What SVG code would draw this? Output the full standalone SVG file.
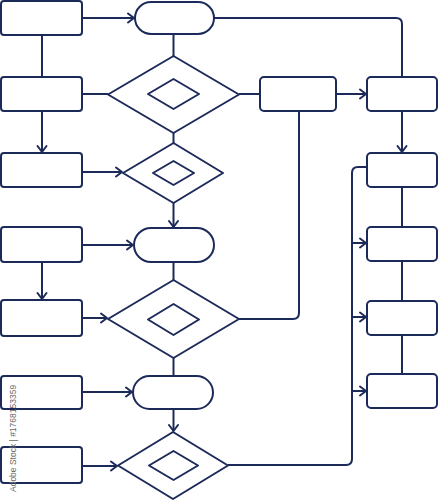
<svg xmlns="http://www.w3.org/2000/svg" width="438" height="500" viewBox="0 0 438 500">
<style>
.s{fill:#fff;stroke:#1c2a5a;stroke-width:2;stroke-linejoin:round}
.c{fill:none;stroke:#1c2a5a;stroke-width:2;stroke-linejoin:round}
.wm{font-family:"Liberation Sans",Arial,sans-serif;font-size:8.5px;fill:#6a6a6a}
</style>
<defs>
<marker id="ah" markerUnits="userSpaceOnUse" markerWidth="12" markerHeight="12" refX="9" refY="6" orient="auto" viewBox="0 0 12 12">
<path d="M3,1.5 L9,6 L3,10.5" fill="none" stroke="#1c2a5a" stroke-width="2" stroke-linejoin="round" stroke-linecap="round"/>
</marker>
</defs>
<g id="connectors">
<path class="c" d="M82,18 H134" marker-end="url(#ah)"/>
<path class="c" d="M42,35 V77"/>
<path class="c" d="M173.5,34 V56"/>
<path class="c" d="M214,18 H396 Q402,18 402,24 V77"/>
<path class="c" d="M82,94 H108"/>
<path class="c" d="M42,111 V152" marker-end="url(#ah)"/>
<path class="c" d="M173.5,133 V143"/>
<path class="c" d="M239,94 H260"/>
<path class="c" d="M336,94 H366" marker-end="url(#ah)"/>
<path class="c" d="M402,111 V152" marker-end="url(#ah)"/>
<path class="c" d="M82,172 H122" marker-end="url(#ah)"/>
<path class="c" d="M173.5,203 V227" marker-end="url(#ah)"/>
<path class="c" d="M82,245 H133" marker-end="url(#ah)"/>
<path class="c" d="M42,262 V299" marker-end="url(#ah)"/>
<path class="c" d="M173.5,262 V280"/>
<path class="c" d="M82,318 H107" marker-end="url(#ah)"/>
<path class="c" d="M239,319 H293 Q299,319 299,313 V111"/>
<path class="c" d="M173.5,358 V376"/>
<path class="c" d="M82,392 H132" marker-end="url(#ah)"/>
<path class="c" d="M173.5,409 V431" marker-end="url(#ah)"/>
<path class="c" d="M82,466 H117" marker-end="url(#ah)"/>
<path class="c" d="M228,465 H346 Q352,465 352,459 V173 Q352,167 358,167 H367"/>
<path class="c" d="M402,187 V227 M402,261 V301 M402,335 V374"/>
<path class="c" d="M352,243 H366" marker-end="url(#ah)"/>
<path class="c" d="M352,317 H366" marker-end="url(#ah)"/>
<path class="c" d="M352,391 H366" marker-end="url(#ah)"/>
</g>
<g id="box1"><rect class="s" x="1" y="1" width="81" height="34" rx="3"/></g>
<g id="box2"><rect class="s" x="1" y="77" width="81" height="34" rx="3"/></g>
<g id="box3"><rect class="s" x="1" y="153" width="81" height="34" rx="3"/></g>
<g id="box4"><rect class="s" x="1" y="227" width="81" height="35" rx="3"/></g>
<g id="box5"><rect class="s" x="1" y="300" width="81" height="36" rx="3"/></g>
<g id="box6"><rect class="s" x="1" y="376" width="81" height="33" rx="3"/></g>
<g id="box7"><rect class="s" x="1" y="447" width="81" height="36" rx="3"/></g>
<g id="term1"><rect class="s" x="135" y="2" width="79" height="32" rx="16"/></g>
<g id="term2"><rect class="s" x="134" y="228" width="80" height="34" rx="17"/></g>
<g id="term3"><rect class="s" x="133" y="376" width="80" height="33" rx="16.5"/></g>
<g id="dia1"><polygon class="s" points="173.5,56 239,94.5 173.5,133 108,94.5"/><polygon class="s" points="173.5,79 199,94 173.5,109 148,94"/></g>
<g id="dia2"><polygon class="s" points="173.5,143 223,173 173.5,203 123,173"/><polygon class="s" points="173.5,161 194,173 173.5,185 153,173"/></g>
<g id="dia3"><polygon class="s" points="173.5,280 239,319 173.5,358 108,319"/><polygon class="s" points="173.5,304 199,319.5 173.5,335 148,319.5"/></g>
<g id="dia4"><polygon class="s" points="173,432 228,465.5 173,499 118,465.5"/><polygon class="s" points="173.5,451 198,465.5 173.5,480 149,465.5"/></g>
<g id="midbox"><rect class="s" x="260" y="77" width="76" height="34" rx="4"/></g>
<g id="rbox1"><rect class="s" x="367" y="77" width="70" height="34" rx="4"/></g>
<g id="rbox2"><rect class="s" x="367" y="153" width="70" height="34" rx="4"/></g>
<g id="rbox3"><rect class="s" x="367" y="227" width="70" height="34" rx="4"/></g>
<g id="rbox4"><rect class="s" x="367" y="301" width="70" height="34" rx="4"/></g>
<g id="rbox5"><rect class="s" x="367" y="374" width="70" height="34" rx="4"/></g>
<text class="wm" transform="translate(15.5,492) rotate(-90)">Adobe Stock | #1768153359</text>
</svg>
